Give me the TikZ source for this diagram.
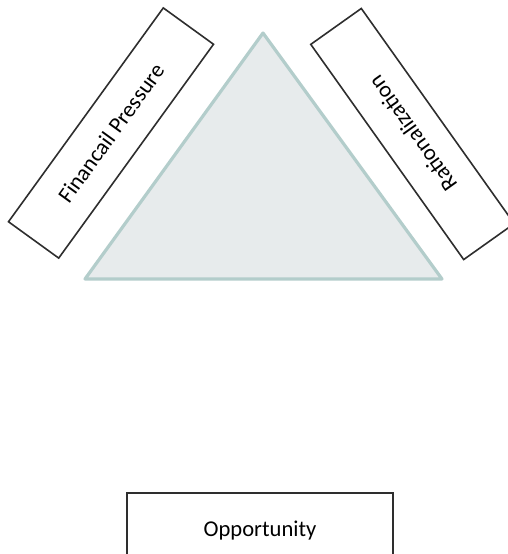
\documentclass[tikz,border=0pt]{standalone}
\usepackage{fontspec}
\setmainfont{Carlito}
\usepackage{tikz}
\usetikzlibrary{positioning}
\definecolor{triangleedge}{HTML}{B3CDCB}
\definecolor{trianglefill}{HTML}{E7EBEC}
\definecolor{boxline}{HTML}{2E2E2E}

\begin{document}
\begin{tikzpicture}[
  x=0.5pt, y=-0.5pt,
  lbl/.style={draw=boxline, line width=0.8pt, fill=white, minimum width=132pt, minimum height=31pt, inner sep=0pt, align=center, font=\fontsize{11.3}{13.5}\selectfont, text=black}
]
\useasboundingbox (0,0) rectangle (508,554);
\clip (0,0) rectangle (508,554);
% fraud triangle
\draw[triangleedge, line width=1.6pt, fill=trianglefill, line join=round] (85,279) -- (263,33) -- (442,279) -- cycle;
\node[lbl, rotate=54.1] (pressure) at (111,133) {Financail Pressure};
\node[lbl, rotate=125.4] (rational) at (412.5,134) {Rationalization};
\node[lbl, minimum width=133pt, minimum height=31.5pt, text height=12pt, text depth=0pt] (opport) at (260,524.5) {Opportunity};
\end{tikzpicture}
\end{document}
